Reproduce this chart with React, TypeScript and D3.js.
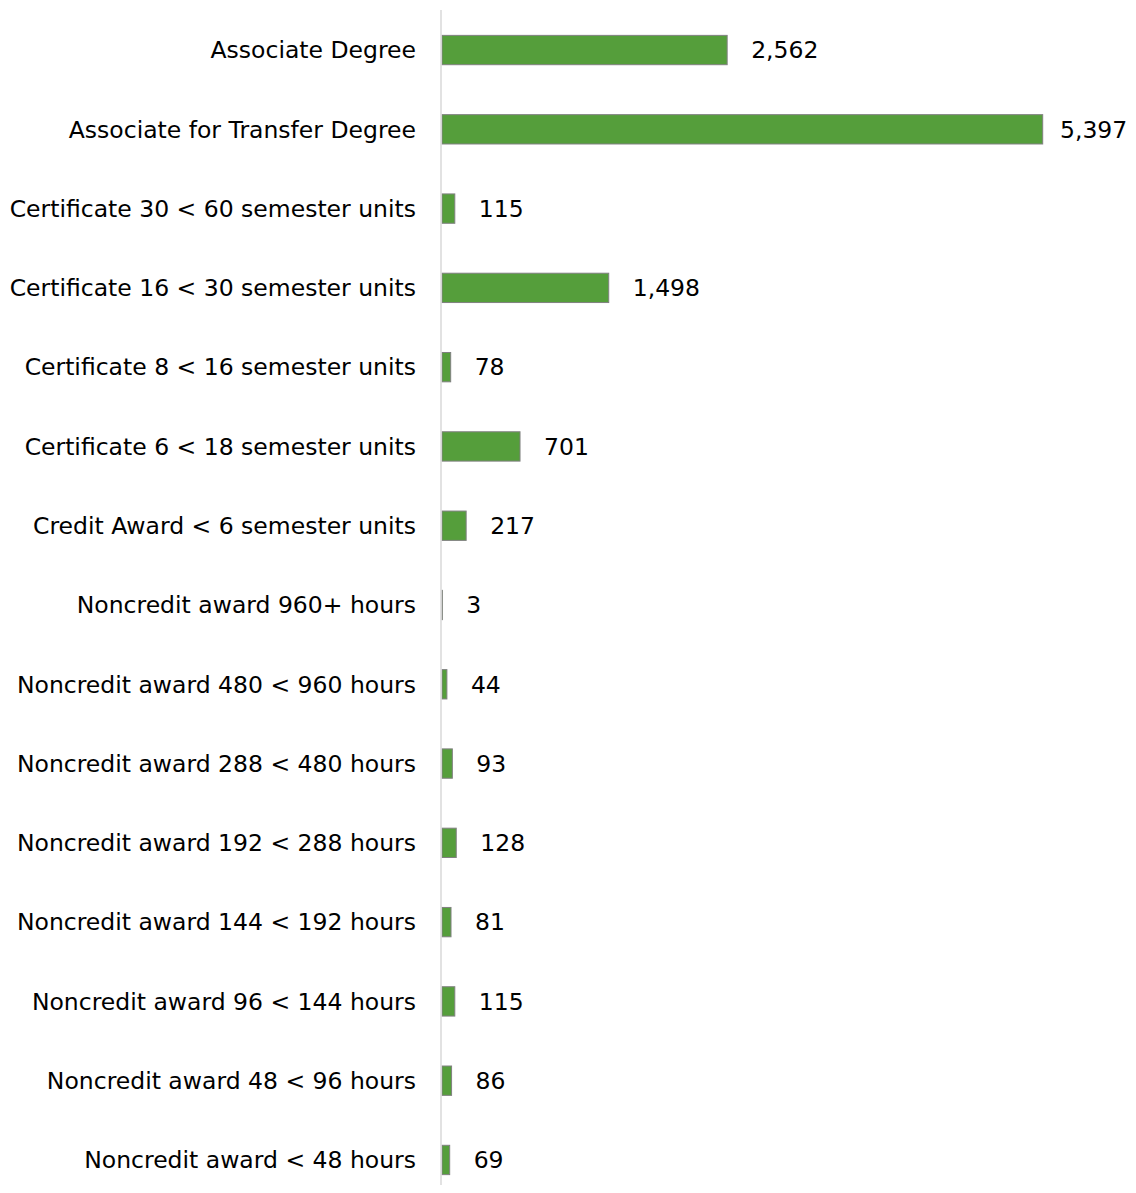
// @ts-nocheck
import { useRef, useEffect } from "react";
import * as d3 from "d3";

const categories = [
  "Associate Degree",
  "Associate for Transfer Degree",
  "Certificate 30 < 60 semester units",
  "Certificate 16 < 30 semester units",
  "Certificate 8 < 16 semester units",
  "Certificate 6 < 18 semester units",
  "Credit Award < 6 semester units",
  "Noncredit award 960+ hours",
  "Noncredit award 480 < 960 hours",
  "Noncredit award 288 < 480 hours",
  "Noncredit award 192 < 288 hours",
  "Noncredit award 144 < 192 hours",
  "Noncredit award 96 < 144 hours",
  "Noncredit award 48 < 96 hours",
  "Noncredit award < 48 hours",
];

const awards = [2562, 5397, 115, 1498, 78, 701, 217, 3, 44, 93, 128, 81, 115, 86, 69];

const W = 1136;
const H = 1193;

const AwardsChart = () => {
  const ref = useRef(null);

  useEffect(() => {
    const svg = d3.select(ref.current);
    svg.selectAll("*").remove(); // Clear previous chart

    const x = d3.scaleLinear().domain([0, 5397]).range([442, 1042.7]);

    const y = d3
      .scaleBand()
      .domain(categories)
      .range([10.4, 1199.6])
      .paddingInner(0.63)
      .paddingOuter(0.315);

    const font = "'DejaVu Sans', sans-serif";

    svg
      .selectAll("rect.bar")
      .data(awards)
      .join("rect")
      .attr("class", "bar")
      .attr("x", x(0))
      .attr("y", (d, i) => y(categories[i]))
      .attr("width", (d) => x(d) - x(0))
      .attr("height", y.bandwidth())
      .attr("fill", "#559e3b")
      .attr("stroke", "#808080")
      .attr("stroke-width", 1);

    // category axis line
    svg
      .append("line")
      .attr("x1", 441)
      .attr("x2", 441)
      .attr("y1", 10)
      .attr("y2", H)
      .attr("stroke", "#d9d9d9")
      .attr("stroke-width", 1.5);

    svg
      .selectAll("text.cat")
      .data(categories)
      .join("text")
      .attr("class", "cat")
      .attr("x", 416)
      .attr("y", (d) => y(d) + y.bandwidth() / 2)
      .attr("dy", "0.35em")
      .attr("text-anchor", "end")
      .attr("font-family", font)
      .attr("font-size", 23.5)
      .attr("fill", "#000")
      .text((d) => d);

    svg
      .selectAll("text.val")
      .data(awards)
      .join("text")
      .attr("class", "val")
      .attr("x", (d) => Math.min(x(d) + 24, 1060))
      .attr("y", (d, i) => y(categories[i]) + y.bandwidth() / 2)
      .attr("dy", "0.35em")
      .attr("font-family", font)
      .attr("font-size", 23.5)
      .attr("fill", "#000")
      .text((d) => d3.format(",")(d));
  }, []);

  return <svg ref={ref} width={W} height={H} style={{ display: "block" }}></svg>;
};

export default function App() {
  return (
    <div style={{ margin: -8 }}>
      <AwardsChart />
    </div>
  );
}
